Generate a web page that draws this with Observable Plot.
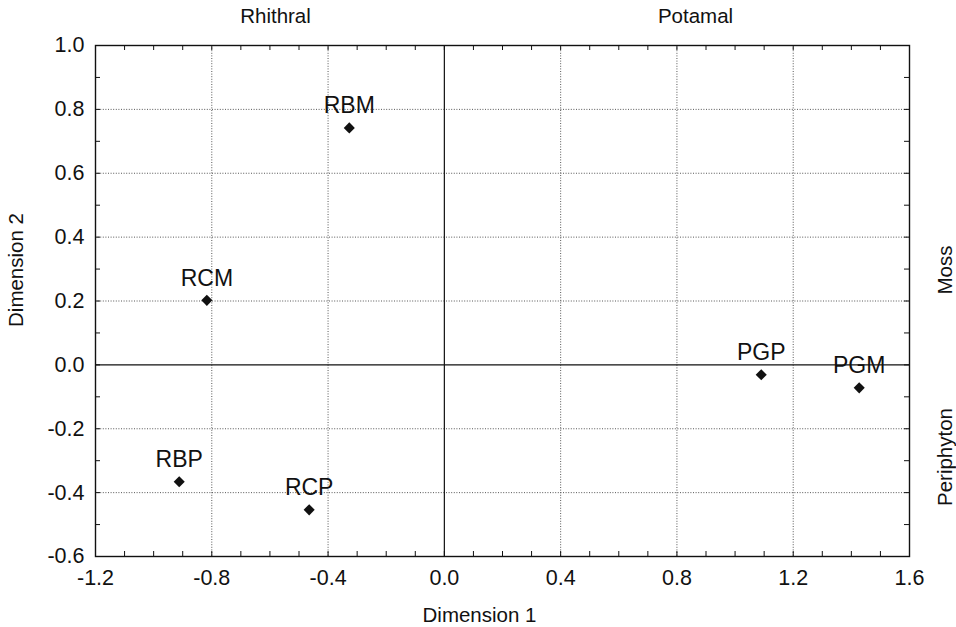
<!DOCTYPE html>
<html>
<head>
<meta charset="utf-8">
<script src="https://cdn.jsdelivr.net/npm/d3@7"></script>
<script src="https://cdn.jsdelivr.net/npm/@observablehq/plot@0.6"></script>
<style>
  html, body { margin: 0; padding: 0; background: #fff; }
  #chart svg { display: block; }
</style>
</head>
<body>
<div id="chart"></div>
<script>
// ---- data ----
const labels = ["RBM", "RCM", "RBP", "RCP", "PGP", "PGM"];
const dim1 = [-0.327, -0.817, -0.912, -0.465, 1.090, 1.427];
const dim2 = [0.742, 0.202, -0.366, -0.454, -0.031, -0.072];

const xTicks = [-12, -8, -4, 0, 4, 8, 12, 16].map(d => d / 10);
const yTicks = [-6, -4, -2, 0, 2, 4, 6, 8, 10].map(d => d / 10);
const xMinor = d3.range(-12, 17).map(d => d / 10);
const yMinor = d3.range(-6, 11).map(d => d / 10);

const topLabels = ["Rhithral", "Potamal"];
const sideLabels = ["Moss", "Periphyton"];
const xTitle = "Dimension 1";
const yTitle = "Dimension 2";

const points = labels.map((label, i) => ({label, d1: dim1[i], d2: dim2[i]}));
const fmt = d => d.toFixed(1);

const W = 956, H = 627, mL = 95, mR = 47, mT = 45, mB = 71;
const innerW = W - mL - mR, innerH = H - mT - mB;
const tickLen = 5;
const ink = "#111";

const chart = Plot.plot({
  width: W,
  height: H,
  marginLeft: mL,
  marginRight: mR,
  marginTop: mT,
  marginBottom: mB,
  x: {domain: [-1.2, 1.6]},
  y: {domain: [-0.6, 1.0]},
  style: {fontFamily: "'Liberation Sans', Arial, Helvetica, sans-serif", background: "#fff", color: ink},
  marks: [
    // dotted grid
    Plot.ruleX(xTicks.filter(d => d !== 0 && d !== -1.2 && d !== 1.6), {x: d => d, stroke: "#444", strokeWidth: 0.9, strokeDasharray: "1,1.6"}),
    Plot.ruleY(yTicks.filter(d => d !== 0 && d !== -0.6 && d !== 1.0), {y: d => d, stroke: "#444", strokeWidth: 0.9, strokeDasharray: "1,1.6"}),
    // zero lines
    Plot.ruleX([0], {x: d => d, stroke: ink, strokeWidth: 1.2}),
    Plot.ruleY([0], {y: d => d, stroke: ink, strokeWidth: 1.2}),
    // inward minor ticks
    Plot.tickX(xMinor, {x: d => d, insetTop: innerH - tickLen, stroke: ink}),
    Plot.tickX(xMinor, {x: d => d, insetBottom: innerH - tickLen, stroke: ink}),
    Plot.tickY(yMinor, {y: d => d, insetRight: innerW - tickLen, stroke: ink}),
    Plot.tickY(yMinor, {y: d => d, insetLeft: innerW - tickLen, stroke: ink}),
    Plot.frame({stroke: ink, strokeWidth: 1.4}),
    // axes
    Plot.axisX(xTicks, {anchor: "bottom", tickSize: 0, tickPadding: 13, fontSize: 21.5, tickFormat: fmt, label: null}),
    Plot.axisY(yTicks, {anchor: "left", tickSize: 0, tickPadding: 11, fontSize: 21.5, tickFormat: fmt, label: null}),
    // points
    Plot.dot(points, {x: "d1", y: "d2", symbol: "diamond2", r: 5, fill: ink, stroke: null}),
    Plot.text(points, {x: "d1", y: "d2", text: "label", dy: -22, fontSize: 23, lineAnchor: "middle", fill: ink}),
    // axis titles
    Plot.text([xTitle], {text: d => d, frameAnchor: "bottom", textAnchor: "middle", dx: -23, dy: 59, fontSize: 20.5, lineAnchor: "middle", fill: ink}),
    Plot.text([yTitle], {text: d => d, frameAnchor: "left", textAnchor: "middle", rotate: -90, dx: -79, dy: -31, fontSize: 20.5, lineAnchor: "middle", fill: ink}),
    // group labels
    Plot.text([topLabels[0]], {text: d => d, frameAnchor: "top", textAnchor: "middle", dx: -227, dy: -29, fontSize: 20.5, lineAnchor: "middle", fill: ink}),
    Plot.text([topLabels[1]], {text: d => d, frameAnchor: "top", textAnchor: "middle", dx: 193, dy: -29, fontSize: 20.5, lineAnchor: "middle", fill: ink}),
    Plot.text([sideLabels[0]], {text: d => d, frameAnchor: "right", textAnchor: "middle", rotate: -90, dx: 36, dy: -31, fontSize: 20.5, lineAnchor: "middle", fill: ink}),
    Plot.text([sideLabels[1]], {text: d => d, frameAnchor: "right", textAnchor: "middle", rotate: -90, dx: 36, dy: 156, fontSize: 20.5, lineAnchor: "middle", fill: ink})
  ]
});

document.getElementById("chart").appendChild(chart);
</script>
</body>
</html>
